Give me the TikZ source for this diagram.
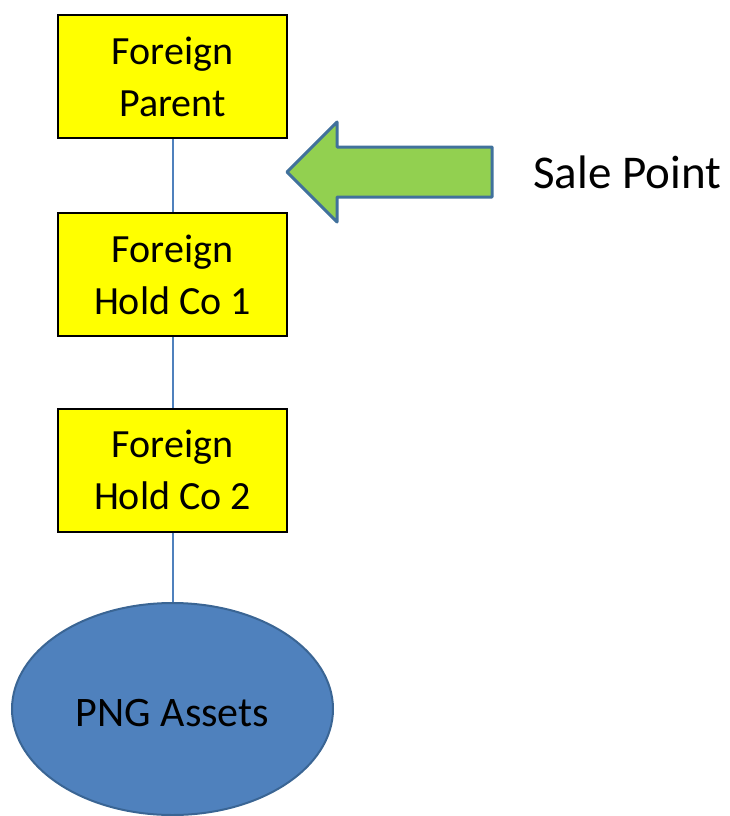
\documentclass[tikz,border=0pt]{standalone}
\usepackage{fontspec}
\setmainfont{Carlito}
\usetikzlibrary{shapes.geometric}
\definecolor{boxyellow}{HTML}{FFFF00}
\definecolor{linkblue}{HTML}{4F81BD}
\definecolor{arrowgreen}{HTML}{92D050}
\definecolor{arrowedge}{HTML}{41719C}
\definecolor{ellfill}{HTML}{4F81BD}
\definecolor{elledge}{HTML}{3A6594}
\tikzset{
  entity/.style={draw=black, line width=2pt, fill=boxyellow, minimum width=229pt, minimum height=123pt, inner sep=0pt, align=center, font=\fontsize{40}{52}\selectfont},
  link/.style={draw=linkblue, line width=2pt},
}
\begin{document}
\begin{tikzpicture}[x=1pt,y=-1pt]
\useasboundingbox (0,0) rectangle (729,816);
\node[entity] (fp) at (172.5,76.5) {Foreign\\Parent};
\node[entity] (h1) at (172.5,274.5) {Foreign\\Hold Co 1};
\node[entity] (h2) at (172.5,470) {Foreign\\Hold Co 2};
\node[ellipse, draw=elledge, line width=2pt, fill=ellfill, minimum width=321pt, minimum height=212pt, inner sep=0pt] (png) at (172.5,709) {};
\node[font=\fontsize{42}{52}\selectfont, inner sep=0pt] (pngtext) at (172.5,713) {PNG Assets};
\draw[link] (fp) -- (h1);
\draw[link] (h1) -- (h2);
\draw[link] (h2) -- (png);
\draw[draw=arrowedge, line width=3pt, fill=arrowgreen, line join=round]
  (287,172) -- (337,122) -- (337,147) -- (492,147) -- (492,197) -- (337,197) -- (337,222) -- cycle;
\node[anchor=west, inner sep=0pt, font=\fontsize{47}{56}\selectfont] (sp) at (533,172) {Sale Point};
\end{tikzpicture}
\end{document}
